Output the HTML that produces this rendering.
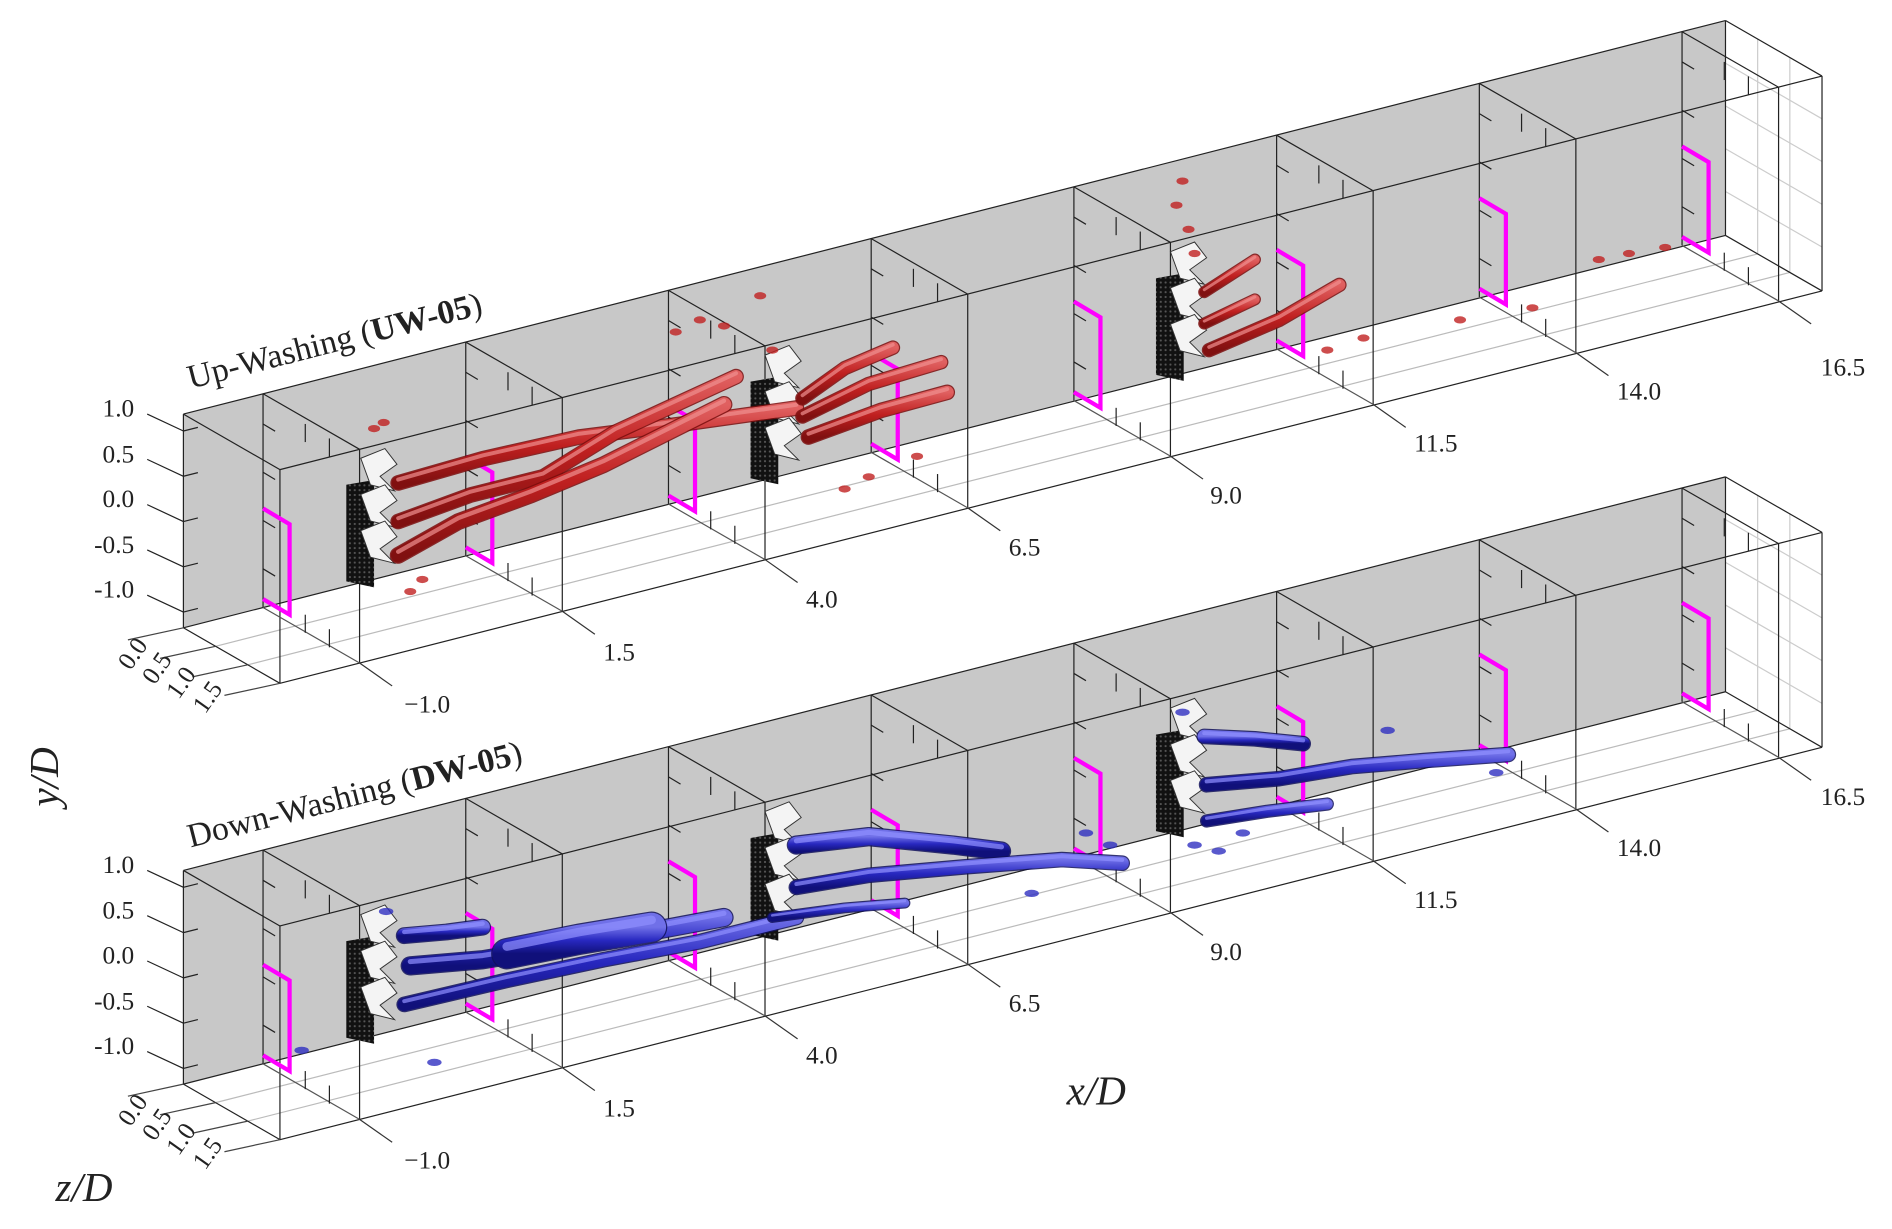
<!DOCTYPE html>
<html><head><meta charset="utf-8"><style>
html,body{margin:0;padding:0;background:#fff}
svg{display:block}
text{font-family:"Liberation Serif",serif;fill:#222}
</style></head><body>
<svg id="s" width="1892" height="1229" viewBox="0 0 1568 1018" preserveAspectRatio="none" xmlns="http://www.w3.org/2000/svg">
<defs>
<linearGradient id="rg" x1="0" y1="0" x2="0" y2="1"><stop offset="0" stop-color="#e06060"/><stop offset="0.5" stop-color="#c02020"/><stop offset="1" stop-color="#801010"/></linearGradient>
<linearGradient id="bg" x1="0" y1="0" x2="0" y2="1"><stop offset="0" stop-color="#7070e8"/><stop offset="0.5" stop-color="#2828c0"/><stop offset="1" stop-color="#10107a"/></linearGradient>
<pattern id="dots" width="4" height="4" patternUnits="userSpaceOnUse"><rect width="4" height="4" fill="#111"/><circle cx="2" cy="2" r="0.9" fill="#555"/></pattern>
</defs>
<g id="g"></g>
<g font-size="21">
<text x="85" y="345">1.0</text><text x="85" y="383">0.5</text><text x="85" y="420">0.0</text><text x="78" y="458">-0.5</text><text x="78" y="495">-1.0</text>
<text x="335" y="590">−1.0</text><text x="500" y="547">1.5</text><text x="668" y="503">4.0</text><text x="836" y="460">6.5</text><text x="1003" y="417">9.0</text><text x="1172" y="374">11.5</text><text x="1340" y="331">14.0</text><text x="1509" y="311">16.5</text>
<text transform="translate(108,556) rotate(-55)">0.0</text><text transform="translate(128,568) rotate(-55)">0.5</text><text transform="translate(148,580) rotate(-55)">1.0</text><text transform="translate(170,592) rotate(-55)">1.5</text>
<text x="85" y="723">1.0</text><text x="85" y="761">0.5</text><text x="85" y="798">0.0</text><text x="78" y="836">-0.5</text><text x="78" y="873">-1.0</text>
<text x="335" y="968">−1.0</text><text x="500" y="925">1.5</text><text x="668" y="881">4.0</text><text x="836" y="838">6.5</text><text x="1003" y="795">9.0</text><text x="1172" y="752">11.5</text><text x="1340" y="709">14.0</text><text x="1509" y="667">16.5</text>
<text transform="translate(108,934) rotate(-55)">0.0</text><text transform="translate(128,946) rotate(-55)">0.5</text><text transform="translate(148,958) rotate(-55)">1.0</text><text transform="translate(170,970) rotate(-55)">1.5</text>
</g>
<text font-size="28" transform="translate(158,322) rotate(-14.3)">Up-Washing (<tspan font-weight="bold">UW-05</tspan>)</text>
<text font-size="28" transform="translate(158,702) rotate(-14.3)">Down-Washing (<tspan font-weight="bold">DW-05</tspan>)</text>
<text font-size="34" font-style="italic" transform="translate(48,668) rotate(-90)">y/D</text>
<text font-size="34" font-style="italic" x="884" y="915">x/D</text>
<text font-size="34" font-style="italic" x="46" y="995">z/D</text>
</svg>
<script>
(function(){
var g=document.getElementById('g'),NS='http://www.w3.org/2000/svg';
function el(t,a){var e=document.createElementNS(NS,t);for(var k in a)e.setAttribute(k,a[k]);g.appendChild(e);return e;}
function L(x1,y1,x2,y2,c,w){el('line',{x1:x1,y1:y1,x2:x2,y2:y2,stroke:c||'#222','stroke-width':w||1});}
var S=0.255,DX=80,DY=46,H=177;
function topY(x,o){return 343-S*(x-152)+o;}
function tube(pts,col,w,o){var d='M'+pts[0][0]+','+(pts[0][1]+o);for(var i=1;i<pts.length;i++)d+=' L'+pts[i][0]+','+(pts[i][1]+o);
 el('path',{d:d,fill:'none',stroke:col[0],'stroke-width':w+2,'stroke-linecap':'round','stroke-linejoin':'round',opacity:0.85});
 el('path',{d:d,fill:'none',stroke:col[1],'stroke-width':w,'stroke-linecap':'round','stroke-linejoin':'round'});
 el('path',{d:d,fill:'none',stroke:col[2],'stroke-width':w*0.3,'stroke-linecap':'round','stroke-linejoin':'round',transform:'translate(0,'+(-w*0.25)+')',opacity:0.7});}
function panel(o,red){
 el('polygon',{points:'152,'+(343+o)+' 1430,'+(17+o)+' 1430,'+(195+o)+' 152,'+(520+o),fill:'#c8c8c8'});
 for(var k=1;k<3;k++){var f=k/3;L(152+DX*f,520+o+DY*f,1430+DX*f,195+o+DY*f,'#bbb',1);}
 for(var k=1;k<3;k++){var f=k/3;L(1430+DX*f,17+o+DY*f,1430+DX*f,195+o+DY*f,'#ccc',1);}
 for(var j=1;j<5;j++){var yy=17+o+j*H/5;L(1430,yy,1510,yy+DY,'#ccc',1);}
 L(152,343+o,1430,17+o);L(152,343+o,152,520+o);L(152,520+o,1430,195+o);
 L(152,343+o,232,389+o);L(232,389+o,1510,63+o);L(232,389+o,232,566+o);L(232,566+o,1510,241+o);L(152,520+o,232,566+o);
 L(1430,17+o,1510,63+o);L(1510,63+o,1510,241+o);L(1430,195+o,1510,241+o);L(1430,17+o,1430,195+o);
 for(var j=0;j<5;j++){var yy=357+o+j*37.5;L(152,yy,164,yy-3);L(122,yy-14,152,yy);}
 for(var k=0;k<4;k++){var f=k/3;L(152+DX*f,520+o+DY*f,130+DX*f-24,530+o+DY*f,'#444');}
 for(var i=0;i<8;i++){var xb=218+168*i,yt=topY(xb,o),yb=yt+H;
  L(xb,yt,xb,yb);L(xb,yt,xb+DX,yt+DY);L(xb+DX,yt+DY,xb+DX,yb+DY);L(xb,yb,xb+DX,yb+DY,'#555');
  for(var j=0;j<4;j++){L(xb,yt+25+j*40,xb+10,yt+31+j*40);}
  L(xb+35,yt+25,xb+35,yt+40);L(xb+55,yt+37,xb+55,yt+52);L(xb+35,yb+6,xb+35,yb+21);L(xb+55,yb+18,xb+55,yb+33);
  L(xb+DX,yb+DY,xb+DX+27,yb+DY+19,'#333');
  var by=yt+95;
  el('polyline',{points:xb+','+by+' '+(xb+22)+','+(by+13)+' '+(xb+22)+','+(by+88)+' '+xb+','+(by+75),fill:'none',stroke:'#ff00ff','stroke-width':3.5});
 }
 var tx=[287,622,958];
 for(var t=0;t<3;t++){var x=tx[t],yt=topY(x,o)+93;
  el('polygon',{points:x+','+(yt)+' '+(x+23)+','+(yt-4)+' '+(x+23)+','+(yt+85)+' '+x+','+(yt+80),fill:'url(#dots)'});
  for(var c=0;c<3;c++){var cy=yt-22+c*30;
   el('polygon',{points:(x+12)+','+cy+' '+(x+32)+','+(cy-8)+' '+(x+42)+','+(cy+5)+' '+(x+28)+','+(cy+15)+' '+(x+40)+','+(cy+27)+' '+(x+20)+','+(cy+22),fill:'#f4f4f4',stroke:'#333','stroke-width':0.8});}
 }
 var col=red?['#7a0d0d','url(#rg)','#f09090']:['#10105a','url(#bg)','#9090ff'];
 if(red){
  tube([[330,400],[400,380],[480,362],[560,352],[660,338]],col,11,0);
  tube([[330,432],[390,410],[450,395],[510,358],[560,335],[610,312]],col,11,0);
  tube([[330,460],[380,432],[440,410],[500,385],[560,355],[600,335]],col,12,0);
  tube([[665,330],[700,305],[740,288]],col,10,0);
  tube([[665,345],[720,318],[780,300]],col,10,0);
  tube([[670,362],[730,340],[785,325]],col,11,0);
  tube([[998,242],[1040,215]],col,8,0);
  tube([[998,268],[1040,248]],col,8,0);
  tube([[1002,290],[1060,265],[1110,236]],col,10,0);
  var sp=[[310,355],[318,350],[630,245],[580,265],[560,275],[600,270],[640,290],[340,490],[350,480],[980,150],[975,170],[985,190],[990,210],[1325,215],[1350,210],[1380,205],[1100,290],[1130,280],[1210,265],[1270,255],[700,405],[720,395],[760,378]];
  sp.forEach(function(p){el('ellipse',{cx:p[0],cy:p[1],rx:5,ry:3,fill:'#c02020',opacity:0.8});});
 } else {
  tube([[335,775],[370,772],[400,768]],col,12,0);
  tube([[340,800],[400,795],[460,785],[520,775],[600,760]],col,14,0);
  tube([[420,790],[480,778],[540,768]],col,24,0);
  tube([[335,832],[420,812],[500,795],[580,780],[660,760]],col,11,0);
  tube([[660,700],[720,693],[790,700],[830,705]],col,14,0);
  tube([[660,735],[720,725],[800,718],[880,712],[930,715]],col,11,0);
  tube([[640,760],[700,752],[750,748]],col,7,0);
  tube([[998,610],[1040,612],[1080,616]],col,11,0);
  tube([[1000,650],[1060,645],[1120,635],[1180,630],[1250,625]],col,11,0);
  tube([[1000,680],[1050,672],[1100,666]],col,9,0);
  var sp=[[980,590],[990,700],[1010,705],[1030,690],[900,690],[920,700],[855,740],[320,755],[360,880],[250,870],[1150,605],[1240,640]];
  sp.forEach(function(p){el('ellipse',{cx:p[0],cy:p[1],rx:6,ry:3,fill:'#3030c0',opacity:0.8});});
 }
}
panel(0,true);panel(378,false);
})();
</script>
</body></html>
